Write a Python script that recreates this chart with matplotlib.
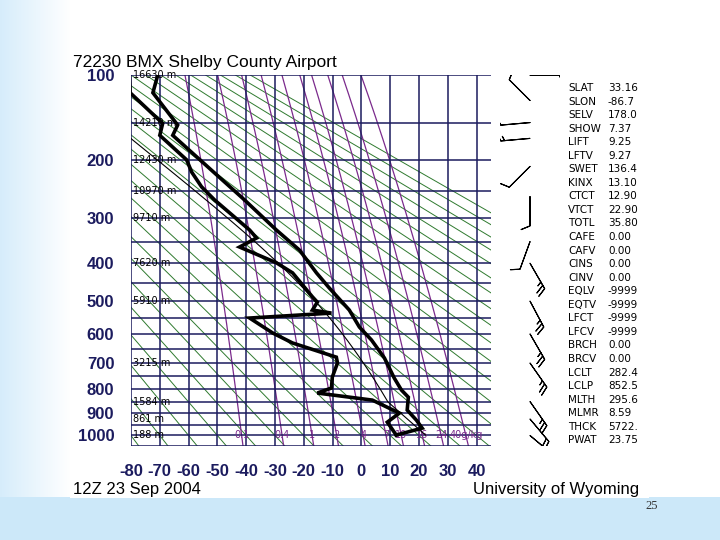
import numpy as np
import matplotlib
matplotlib.use("Agg")
import matplotlib.pyplot as plt

K = 0.286

# ---------------- data ----------------
isobars = list(range(100, 1051, 50))
isotherms = list(range(-80, 41, 10))
ytick_vals = [100, 200, 300, 400, 500, 600, 700, 800, 900, 1000]
xtick_vals = [-80, -70, -60, -50, -40, -30, -20, -10, 0, 10, 20, 30, 40]
theta_c = list(range(-80, 181, 10))
mix_ratios = [0.1, 0.4, 1, 2, 4, 7, 10, 16, 24, 40]
mix_labels = ["0.1", "0.4", "1", "2", "4", "7", "10", "16", "24", "40g/kg"]

height_p = [100, 150, 200, 250, 300, 400, 500, 700, 850, 925, 1000]
height_lbl = ["16630 m", "14210 m", "12430 m", "10970 m", "9710 m", "7620 m",
              "5910 m", "3215 m", "1584 m", "861 m", "188 m"]

temp_p = [100, 117, 153, 166, 266, 325, 369, 424, 464, 526, 578, 620, 682, 756, 803,
          832, 886, 930, 966, 998]
temp_t = [-70.7, -72.4, -63.8, -65.5, -40.6, -29.5, -21.5, -15.6, -11.1, -4.2, -0.7, 3.5,
          8.0, 11.4, 13.9, 16.3, 15.9, 19.1, 21.1, 12.1]
dew_p = [100, 117, 151, 166, 200, 219, 243, 266, 325, 342, 362, 399, 424, 488, 503, 526,
         535, 550, 597, 630, 679, 700, 752, 795, 815, 844, 899, 939, 998]
dew_t = [-80.6, -80.3, -69.0, -70.0, -60.7, -58.9, -55.5, -51.0, -38.8, -36.4, -42.3,
         -29.5, -23.9, -17.0, -15.3, -17.0, -10.4, -38.8, -30.8, -23.9, -8.7, -8.3, -10.1,
         -10.4, -15.3, 3.8, 13.2, 9.0, 12.1]

# mixed-layer parcel (from the station table)
ml_theta = 295.6
lcl_t_k = 282.4
lcl_p = 852.5
sfc_p = 998

wind_p = [100, 125, 150, 170, 210, 260, 350, 400, 500, 600, 700, 850, 925, 1000]
wind_dir = [90, 315, 265, 265, 225, 180, 200, 150, 152, 150, 145, 145, 140, 130]
wind_spd = [10, 10, 10, 15, 10, 10, 10, 25, 25, 25, 25, 25, 20, 15]

stat_names = ["SLAT", "SLON", "SELV", "SHOW", "LIFT", "LFTV", "SWET", "KINX", "CTCT",
              "VTCT", "TOTL", "CAFE", "CAFV", "CINS", "CINV", "EQLV", "EQTV", "LFCT",
              "LFCV", "BRCH", "BRCV", "LCLT", "LCLP", "MLTH", "MLMR", "THCK", "PWAT"]
stat_vals = ["33.16", "-86.7", "178.0", "7.37", "9.25", "9.27", "136.4", "13.10", "12.90",
             "22.90", "35.80", "0.00", "0.00", "0.00", "0.00", "-9999", "-9999", "-9999",
             "-9999", "0.00", "0.00", "282.4", "852.5", "295.6", "8.59", "5722.", "23.75"]

NAVY = "#1b1b5e"
GREEN = "#2f7a2f"
PURPLE = "#7b2a8c"

W, H = 720, 540
fig = plt.figure(figsize=(7.2, 5.4), dpi=100)

# slide background
bg = fig.add_axes([0, 0, 1, 1])
yy, xx = np.mgrid[0:H, 0:W]
t_left = np.clip((70 - xx) / 70.0, 0, 1) * 0.8
t_bot = np.where(yy >= 497, 1.0, 0.0)
t = np.maximum(t_left, t_bot)
white = np.array([1.0, 1.0, 1.0])
blue = np.array([0.80, 0.91, 0.98])
img = white[None, None, :] * (1 - t[..., None]) + blue[None, None, :] * t[..., None]
panel = (xx >= 70) & (xx <= 648) & (yy >= 40) & (yy <= 497)
img[panel] = 1.0
bg.imshow(img, extent=[0, W, H, 0], aspect="auto")
bg.set_xlim(0, W)
bg.set_ylim(H, 0)
bg.axis("off")


def fx(x):
    return x / W


def fy(y):
    return 1 - y / H


def fwd(p):
    return np.abs(p) ** K


def inv(y):
    return np.abs(y) ** (1 / K)


def esat(tc):
    return 6.112 * np.exp(17.67 * tc / (tc + 243.5))


ax = fig.add_axes([fx(131), fy(446), 360 / W, 371 / H])
ax.set_yscale("function", functions=(fwd, inv))
ax.set_xlim(-80, 45)
ax.set_ylim(1050, 100)
ax.patch.set_alpha(0)
for s in ax.spines.values():
    s.set_visible(False)

pp = np.linspace(100, 1050, 200)
# dry adiabats
for th in theta_c:
    tt = (th + 273.15) * (pp / 1000.0) ** K - 273.15
    ax.plot(tt, pp, color=GREEN, lw=0.7, zorder=2)
# mixing ratio lines
for w in mix_ratios:
    e = (w / 1000.0) * pp / (0.622 + w / 1000.0)
    le = np.log(e / 6.112)
    tt = 243.5 * le / (17.67 - le)
    ax.plot(tt, pp, color=PURPLE, lw=0.9, zorder=2)
# grid
for p in isobars:
    ax.plot([-80, 45], [p, p], color=NAVY, lw=1.1, zorder=3)
for T in isotherms:
    ax.plot([T, T], [100, 1050], color=NAVY, lw=1.1, zorder=3)

# mixing ratio labels
for w, lbl in zip(mix_ratios, mix_labels):
    e = (w / 1000.0) * 1000 / (0.622 + w / 1000.0)
    le = np.log(e / 6.112)
    tx = 243.5 * le / (17.67 - le)
    ax.text(tx, 1000, lbl, color=PURPLE, fontsize=7, ha="center", va="center", zorder=4,
            family="DejaVu Sans")

# height labels
for p, lbl in zip(height_p, height_lbl):
    ax.text(-79.3, p, lbl, fontsize=7, ha="left", va="center", color="black", zorder=4,
            family="DejaVu Sans")

# parcel path: dry adiabat to LCL, then moist adiabat
Rd, cp, Lv, eps = 287.04, 1005.7, 2.501e6, 0.622
p_dry = np.linspace(sfc_p, lcl_p, 30)
t_dry = ml_theta * (p_dry / 1000.0) ** K - 273.15
p_m = np.linspace(lcl_p, 100, 600)
t_m = np.empty_like(p_m)
Tk = lcl_t_k
for i, p in enumerate(p_m):
    t_m[i] = Tk - 273.15
    if i + 1 < len(p_m):
        dp = p_m[i + 1] - p
        for _ in range(2):
            pass
        es = esat(Tk - 273.15)
        rs = eps * es / (p - es)
        dTdp = (Rd * Tk + Lv * rs) / (cp + Lv ** 2 * rs * eps / (Rd * Tk ** 2)) / p
        Tmid = Tk + 0.5 * dp * dTdp
        pmid = p + 0.5 * dp
        es = esat(Tmid - 273.15)
        rs = eps * es / (pmid - es)
        dTdp = (Rd * Tmid + Lv * rs) / (cp + Lv ** 2 * rs * eps / (Rd * Tmid ** 2)) / pmid
        Tk = Tk + dp * dTdp
ax.plot(np.concatenate([t_dry, t_m]), np.concatenate([p_dry, p_m]), color="black",
        lw=0.8, zorder=4)

# profiles
ax.plot(temp_t, temp_p, color="black", lw=2.6, zorder=5, solid_joinstyle="miter")
ax.plot(dew_t, dew_p, color="black", lw=2.6, zorder=5, solid_joinstyle="miter")

ax.set_yticks(ytick_vals)
ax.set_yticklabels([str(v) for v in ytick_vals])
ax.set_xticks(xtick_vals)
ax.set_xticklabels([str(v) for v in xtick_vals])
ax.minorticks_off()
ax.tick_params(length=0, labelcolor=NAVY, labelsize=12)
ax.tick_params(axis="y", pad=12)
ax.tick_params(axis="x", pad=13)
for lab in ax.get_xticklabels() + ax.get_yticklabels():
    lab.set_fontweight("bold")
    lab.set_family("Liberation Sans")

# wind barbs
axb = fig.add_axes([fx(500), fy(446), 60 / W, 371 / H])
axb.set_yscale("function", functions=(fwd, inv))
axb.set_ylim(1050, 100)
axb.set_xlim(0, 60)
axb.axis("off")
d = np.radians(wind_dir)
u = -np.array(wind_spd) * np.sin(d)
v = -np.array(wind_spd) * np.cos(d)
axb.barbs(np.full(len(wind_p), 30), wind_p, u, v, length=6.5, lw=0.8, color="black",
          sizes=dict(height=0.3, spacing=0.13, width=0.25))

# texts
fig.text(fx(73), fy(67), "72230 BMX Shelby County Airport", fontsize=12.5,
         family="Liberation Sans", color="black", va="baseline")
fig.text(fx(73), fy(494), "12Z 23 Sep 2004", fontsize=12, family="Liberation Sans",
         color="black", va="baseline")
fig.text(fx(639), fy(494), "University of Wyoming", fontsize=12, family="Liberation Sans",
         color="black", va="baseline", ha="right")
for i, (n, v_) in enumerate(zip(stat_names, stat_vals)):
    y = 88 + i * 13.55
    fig.text(fx(568), fy(y), n, fontsize=7.5, family="DejaVu Sans", va="center")
    fig.text(fx(608), fy(y), v_, fontsize=7.5, family="DejaVu Sans", va="center")
fig.text(fx(652), fy(506), "25", fontsize=9, family="Liberation Serif", color="#333333",
         ha="center", va="center")

fig.savefig("out.png", dpi=100)
